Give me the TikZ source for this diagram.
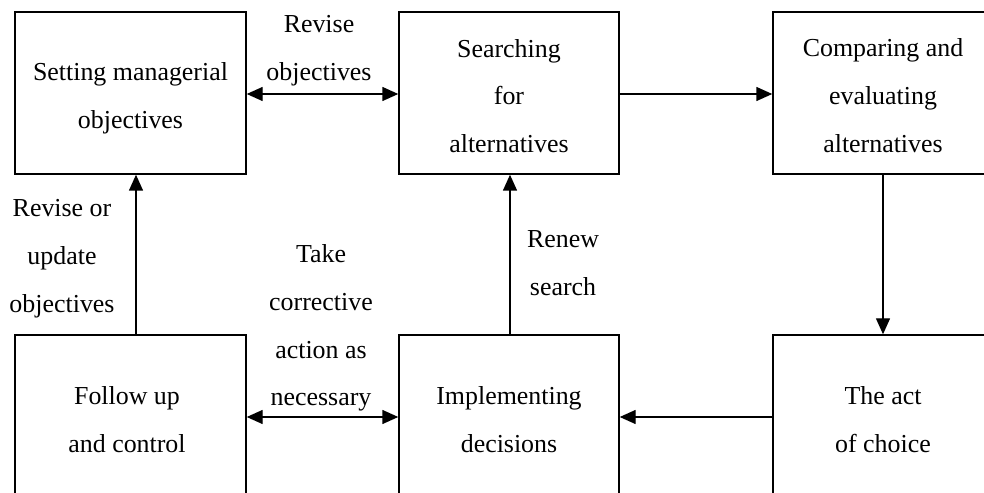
\documentclass[tikz,border=0pt]{standalone}
\usepackage{fontspec}
\setmainfont{Liberation Serif}
\usetikzlibrary{arrows.meta}
\begin{document}
\begin{tikzpicture}[x=1bp,y=-1bp,
  txt/.style={align=center,font=\fontsize{26}{48}\selectfont,inner sep=0pt},
  topbox/.style={draw,line width=1.4bp,rectangle,minimum height=162bp,inner sep=0pt},
  botbox/.style={draw,line width=1.4bp,rectangle,minimum height=168bp,inner sep=0pt},
  arr/.style={line width=1.4bp,-{Triangle[length=16bp,width=14bp]}},
  darr/.style={line width=1.4bp,{Triangle[length=16bp,width=14bp]}-{Triangle[length=16bp,width=14bp]}}]
\useasboundingbox (0,0) rectangle (984,493);
\clip (0,0) rectangle (984,493);
\node[topbox,minimum width=231bp] (A) at (130.5,93) {};
\node[topbox,minimum width=220bp] (B) at (509,93) {};
\node[topbox,minimum width=220bp] (C) at (883,93) {};
\node[botbox,minimum width=231bp] (D) at (130.5,419) {};
\node[botbox,minimum width=220bp] (E) at (509,419) {};
\node[botbox,minimum width=220bp] (F) at (883,419) {};
\node[txt] (At) at (130.5,98) {Setting managerial\\objectives};
\node[txt] (Bt) at (509,96) {Searching\\for\\alternatives};
\node[txt] (Ct) at (883,95.5) {Comparing and\\evaluating\\alternatives};
\node[txt] (Dt) at (127,420) {Follow up\\and control};
\node[txt] (Et) at (509,420) {Implementing\\decisions};
\node[txt] (Ft) at (883,420) {The act\\of choice};
\coordinate (vA) at (136,0);
\coordinate (vB) at (510,0);
\coordinate (hT) at (0,94);
\coordinate (hB) at (0,417);
\draw[darr] (A.east |- hT) -- (B.west |- hT);
\draw[arr] (B.east |- hT) -- (C.west |- hT);
\draw[arr] (C.south) -- (F.north);
\draw[arr] (F.west |- hB) -- (E.east |- hB);
\draw[darr] (D.east |- hB) -- (E.west |- hB);
\draw[arr] (D.north -| vA) -- (A.south -| vA);
\draw[arr] (E.north -| vB) -- (B.south -| vB);
\node[txt] (l1) at (319,51) {Revise\\objectives};
\node[txt] (l2) at (62,259) {Revise or\\update\\objectives};
\node[txt] (l3) at (321,328) {Take\\corrective\\action as\\necessary};
\node[txt] (l4) at (563,263) {Renew\\search};
\end{tikzpicture}
\end{document}
